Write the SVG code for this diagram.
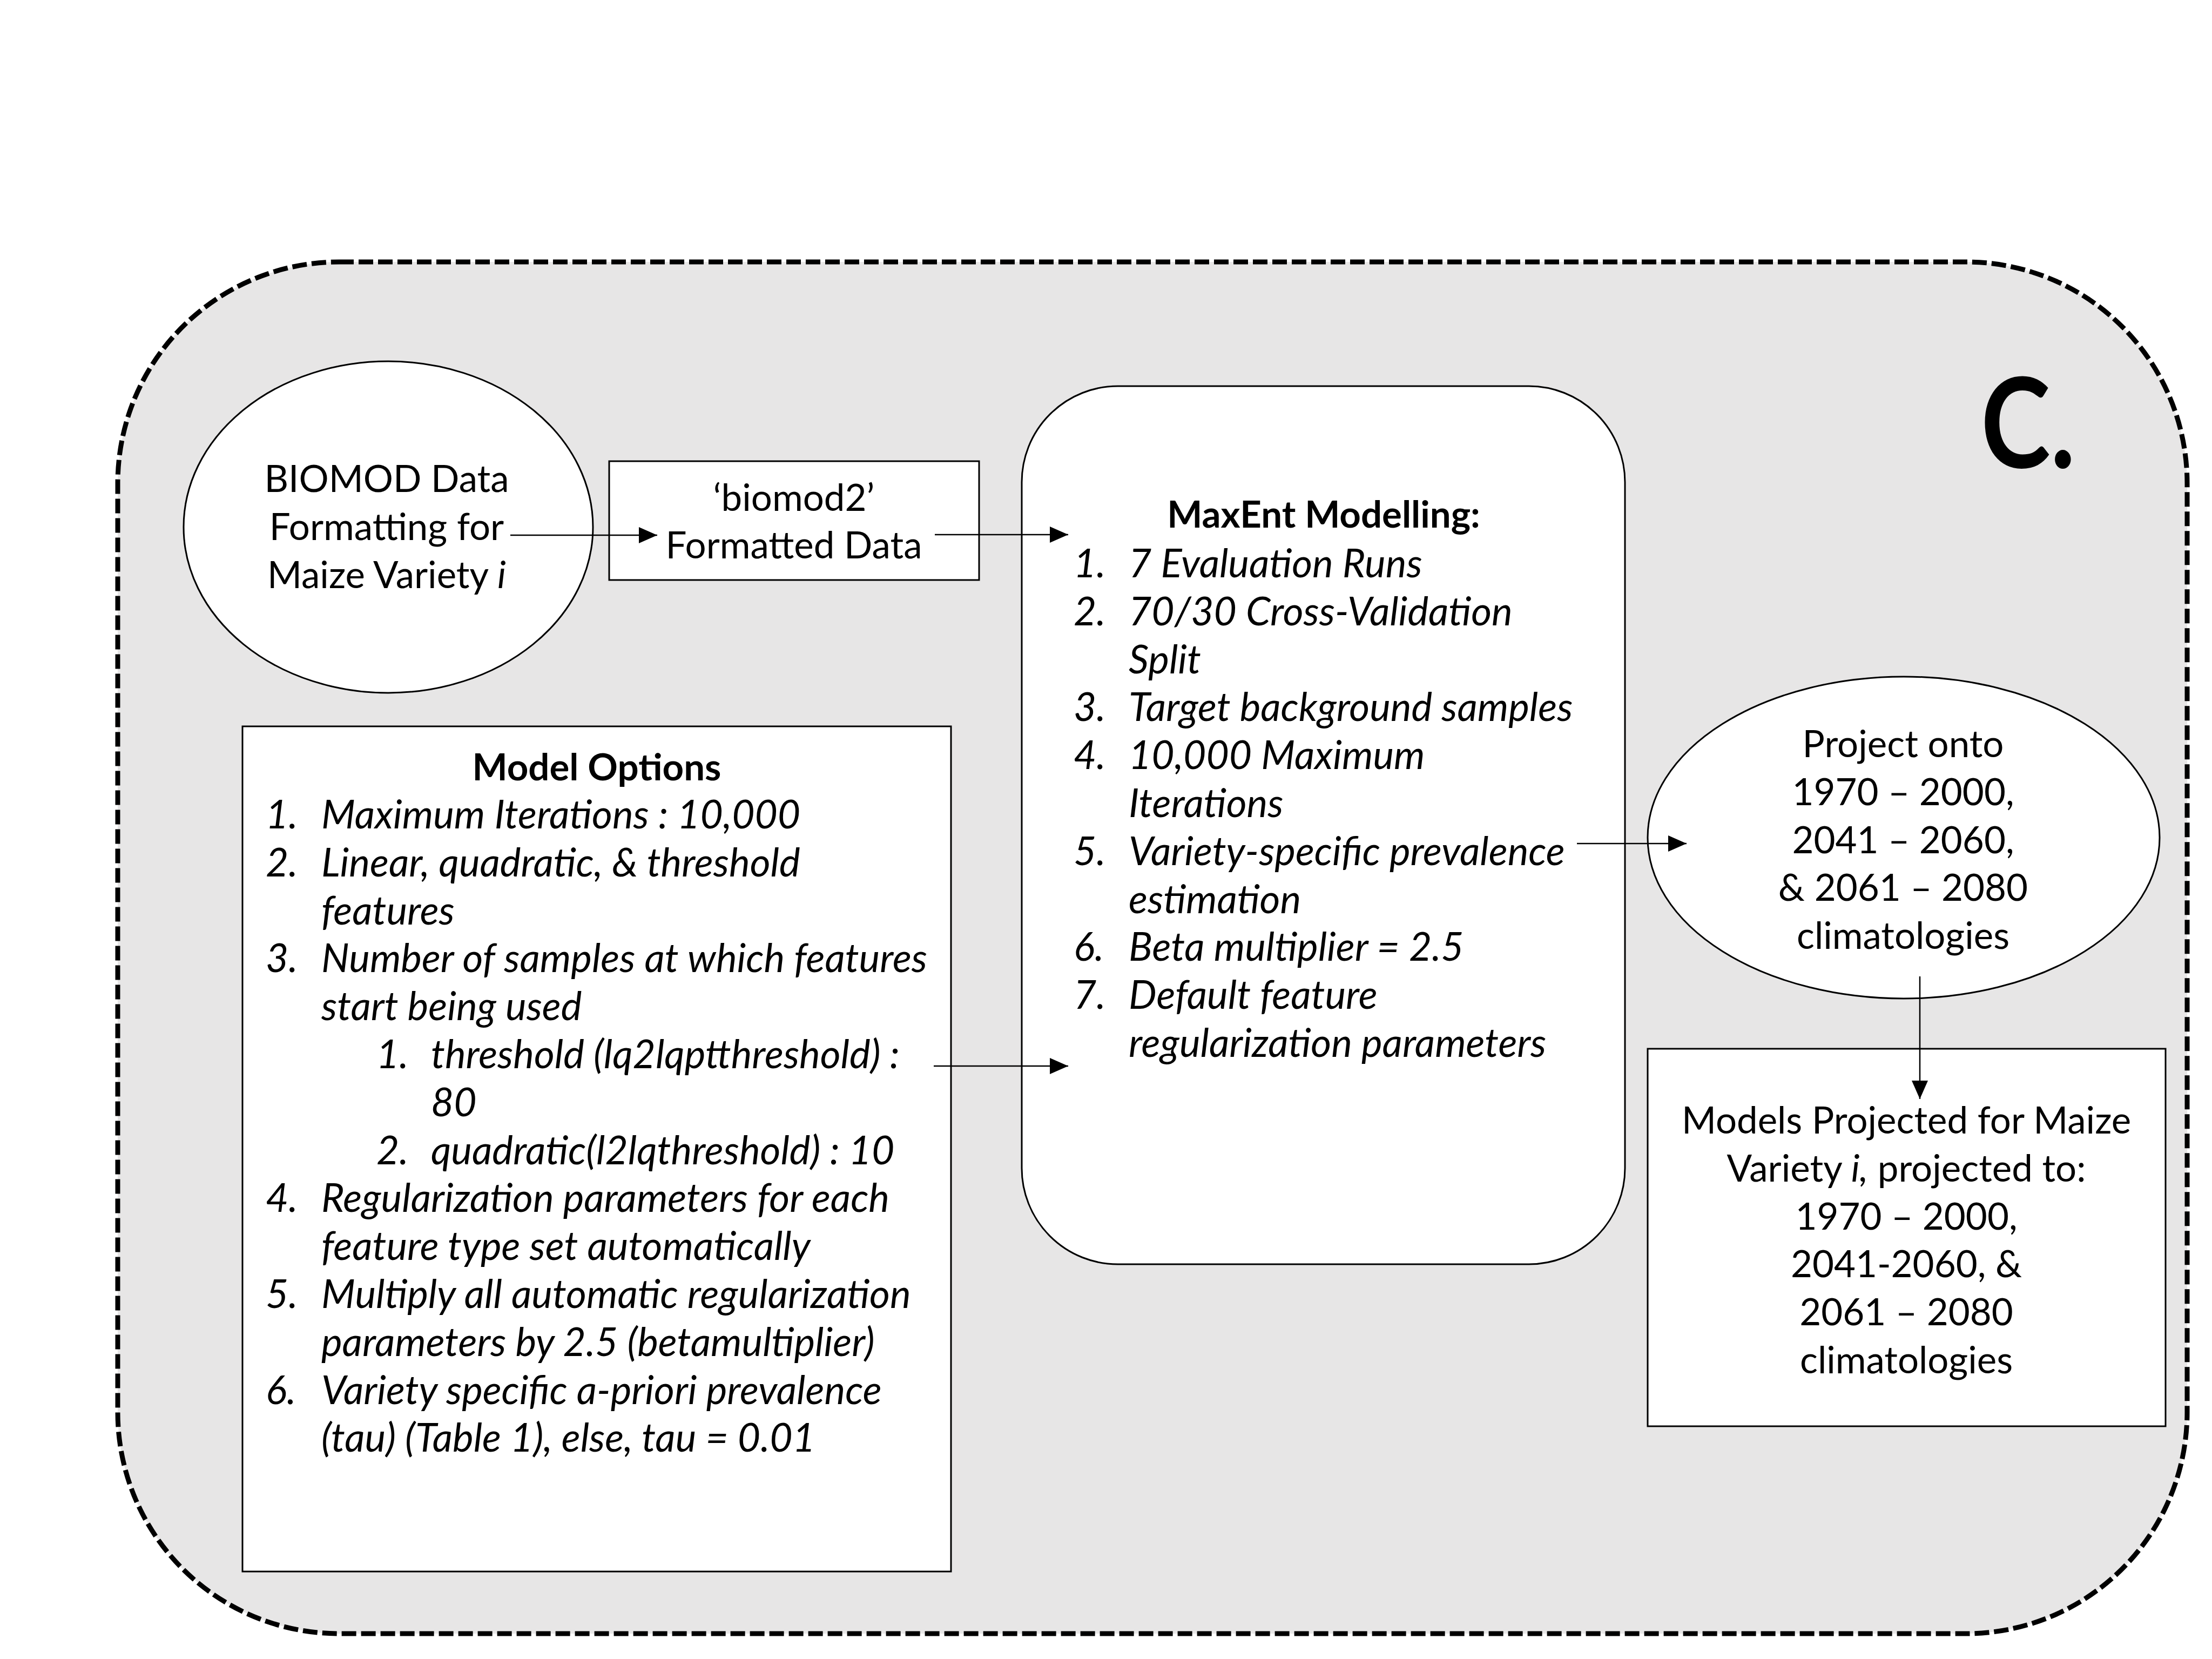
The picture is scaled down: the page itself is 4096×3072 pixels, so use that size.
<svg xmlns="http://www.w3.org/2000/svg" width="4096" height="3072" viewBox="0 0 4096 3072">
<style>
.t{font-family:Lato,'Open Sans','Liberation Sans',sans-serif;font-size:69px;fill:#000}
.c{text-anchor:middle}
.i{font-style:italic;font-size:73px}
.b{font-weight:bold;font-size:69px}
.big{font-size:232px}
.box{fill:#fff;stroke:#000;stroke-width:3}
.conn{fill:none;stroke:#000;stroke-width:2.5;marker-end:url(#ah)}
</style>
<defs>
<marker id="ah" markerUnits="userSpaceOnUse" markerWidth="34" markerHeight="30" refX="34" refY="15" orient="auto">
<path d="M0,0 L34,15 L0,30 Z" fill="#000"/>
</marker>
</defs>
<rect width="4096" height="3072" fill="#fff"/>
<g id="container">
<rect x="218" y="485" width="3832" height="2540" rx="410" ry="410" fill="#E7E6E6" stroke="#000" stroke-width="9" stroke-dasharray="27 9"/>
<text class="t b big" x="3668" y="866" textLength="175" lengthAdjust="spacingAndGlyphs">C.</text>
</g>
<g id="biomod-formatting">
<ellipse class="box" cx="719" cy="976" rx="379" ry="307" stroke-width="2.5"/>
<text class="t c" x="716" y="911">BIOMOD Data</text>
<text class="t c" x="716" y="1000">Formatting for</text>
<text class="t c" x="716" y="1089">Maize Variety <tspan class="i" style="font-size:69px">i</tspan></text>
</g>
<g id="biomod2-data">
<rect class="box" x="1128" y="854" width="685" height="220"/>
<text class="t c" x="1470" y="946">‘biomod2’</text>
<text class="t c" x="1470" y="1034">Formatted Data</text>
</g>
<g id="maxent">
<rect class="box" x="1892" y="715" width="1117" height="1626" rx="178" ry="178" stroke-width="3.5"/>
<text class="t c b" x="2451" y="977">MaxEnt Modelling:</text>
<g class="t i">
<text x="1988" y="1069">1.</text><text x="2090" y="1069">7 Evaluation Runs</text>
<text x="1988" y="1158">2.</text><text x="2090" y="1158">70/30 Cross-Validation</text>
<text x="2090" y="1247">Split</text>
<text x="1988" y="1335">3.</text><text x="2090" y="1335">Target background samples</text>
<text x="1988" y="1424">4.</text><text x="2090" y="1424">10,000 Maximum</text>
<text x="2090" y="1513">Iterations</text>
<text x="1988" y="1602">5.</text><text x="2090" y="1602">Variety-specific prevalence</text>
<text x="2090" y="1691">estimation</text>
<text x="1988" y="1779">6.</text><text x="2090" y="1779">Beta multiplier = 2.5</text>
<text x="1988" y="1868">7.</text><text x="2090" y="1868">Default feature</text>
<text x="2090" y="1957">regularization parameters</text>
</g>
</g>
<g id="model-options">
<rect class="box" x="449" y="1345" width="1312" height="1565"/>
<text class="t c b" x="1105" y="1445">Model Options</text>
<g class="t i">
<text x="492" y="1534">1.</text><text x="595" y="1534">Maximum Iterations : 10,000</text>
<text x="492" y="1623">2.</text><text x="595" y="1623">Linear, quadratic, &amp; threshold</text>
<text x="595" y="1712">features</text>
<text x="492" y="1800">3.</text><text x="595" y="1800">Number of samples at which features</text>
<text x="595" y="1889">start being used</text>
<text x="697" y="1978">1.</text><text x="798" y="1978">threshold (lq2lqptthreshold) :</text>
<text x="798" y="2067">80</text>
<text x="697" y="2156">2.</text><text x="798" y="2156">quadratic(l2lqthreshold) : 10</text>
<text x="492" y="2244">4.</text><text x="595" y="2244">Regularization parameters for each</text>
<text x="595" y="2333">feature type set automatically</text>
<text x="492" y="2422">5.</text><text x="595" y="2422">Multiply all automatic regularization</text>
<text x="595" y="2511">parameters by 2.5 (betamultiplier)</text>
<text x="492" y="2600">6.</text><text x="595" y="2600">Variety specific a-priori prevalence</text>
<text x="595" y="2688">(tau) (Table 1), else, tau = 0.01</text>
</g>
</g>
<g id="project-onto">
<ellipse class="box" cx="3525" cy="1551" rx="474" ry="298" stroke-width="3.5"/>
<text class="t c" x="3524" y="1402">Project onto</text>
<text class="t c" x="3524" y="1491">1970 – 2000,</text>
<text class="t c" x="3524" y="1580">2041 – 2060,</text>
<text class="t c" x="3524" y="1668">&amp; 2061 – 2080</text>
<text class="t c" x="3524" y="1757">climatologies</text>
</g>
<g id="models-projected">
<rect class="box" x="3051" y="1942" width="959" height="699"/>
<text class="t c" x="3530" y="2099">Models Projected for Maize</text>
<text class="t c" x="3530" y="2188">Variety <tspan class="i" style="font-size:69px">i,</tspan> projected to:</text>
<text class="t c" x="3530" y="2277">1970 – 2000,</text>
<text class="t c" x="3530" y="2365">2041-2060, &amp;</text>
<text class="t c" x="3530" y="2454">2061 – 2080</text>
<text class="t c" x="3530" y="2543">climatologies</text>
</g>
<g id="connectors">
<line class="conn" x1="945" y1="991" x2="1217" y2="991"/>
<line class="conn" x1="1731" y1="990" x2="1978" y2="990"/>
<line class="conn" x1="1729" y1="1974" x2="1978" y2="1974"/>
<line class="conn" x1="2920" y1="1562" x2="3123" y2="1562"/>
<line class="conn" x1="3555" y1="1808" x2="3555" y2="2035"/>
</g>
</svg>
